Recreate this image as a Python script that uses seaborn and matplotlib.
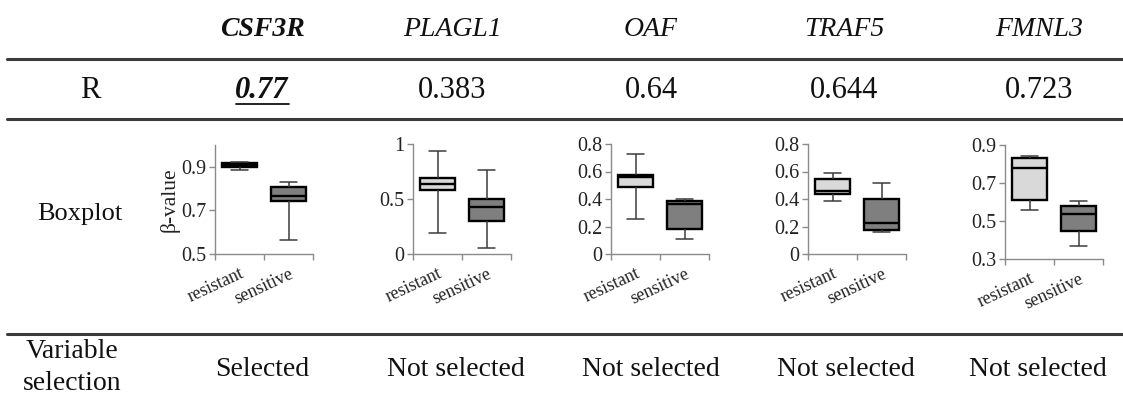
import numpy as np
import pandas as pd
import matplotlib
matplotlib.use("Agg")
import matplotlib.pyplot as plt
from matplotlib.lines import Line2D
from matplotlib.ticker import FuncFormatter, FixedLocator
import seaborn as sns

# ---------------- data ----------------
genes = ["CSF3R", "PLAGL1", "OAF", "TRAF5", "FMNL3"]
r_values = ["0.77", "0.383", "0.64", "0.644", "0.723"]
selection = ["Selected", "Not selected", "Not selected", "Not selected", "Not selected"]
groups = ["resistant", "sensitive"]

# five-number summaries [min, Q1, median, Q3, max] of beta-values
csf3r_resistant = [0.885, 0.899, 0.910, 0.919, 0.923]
csf3r_sensitive = [0.564, 0.742, 0.768, 0.806, 0.830]
plagl1_resistant = [0.188, 0.582, 0.633, 0.688, 0.936]
plagl1_sensitive = [0.055, 0.303, 0.424, 0.500, 0.764]
oaf_resistant = [0.258, 0.484, 0.560, 0.571, 0.730]
oaf_sensitive = [0.107, 0.182, 0.363, 0.382, 0.401]
traf5_resistant = [0.387, 0.436, 0.455, 0.545, 0.586]
traf5_sensitive = [0.163, 0.173, 0.228, 0.399, 0.516]
fmnl3_resistant = [0.556, 0.608, 0.779, 0.831, 0.840]
fmnl3_sensitive = [0.366, 0.445, 0.538, 0.577, 0.607]

y_ticks = {
    "CSF3R": [0.5, 0.7, 0.9],
    "PLAGL1": [0, 0.5, 1],
    "OAF": [0, 0.2, 0.4, 0.6, 0.8],
    "TRAF5": [0, 0.2, 0.4, 0.6, 0.8],
    "FMNL3": [0.3, 0.5, 0.7, 0.9],
}
y_limits = {
    "CSF3R": (0.5, 1.0),
    "PLAGL1": (0, 1),
    "OAF": (0, 0.8),
    "TRAF5": (0, 0.8),
    "FMNL3": (0.3, 0.9),
}
summaries = {
    "CSF3R": (csf3r_resistant, csf3r_sensitive),
    "PLAGL1": (plagl1_resistant, plagl1_sensitive),
    "OAF": (oaf_resistant, oaf_sensitive),
    "TRAF5": (traf5_resistant, traf5_sensitive),
    "FMNL3": (fmnl3_resistant, fmnl3_sensitive),
}

# ---------------- layout ----------------
W, H = 1123, 397
sns.set_theme(style="white")
plt.rcParams["font.family"] = ["Liberation Serif", "DejaVu Serif"]
fig = plt.figure(figsize=(W / 100, H / 100), dpi=100)
fig.patch.set_facecolor("white")

def fx(px):
    return px / W

def fy(py):
    return 1 - py / H

txt_col = "#111111"

# table rules
for yy in [58.5, 119, 334]:
    fig.add_artist(Line2D([fx(7), 1.0], [fy(yy), fy(yy)], color="#3a3a3a", lw=2.2,
                          transform=fig.transFigure))

col_x = [262, 452, 651, 844, 1039]
sel_x = [262, 456, 651, 846, 1038]

# header row
for i, g in enumerate(genes):
    fig.text(fx(col_x[i]), fy(29), g, ha="center", va="center", fontsize=20,
             style="italic", weight="bold" if i == 0 else "normal", color=txt_col)

# R row
fig.text(fx(90), fy(90), "R", ha="center", va="center", fontsize=22, color=txt_col)
for i, r in enumerate(r_values):
    fig.text(fx(col_x[i]), fy(90), r, ha="center", va="center", fontsize=22,
             style="italic" if i == 0 else "normal",
             weight="bold" if i == 0 else "normal", color=txt_col)
# underline for the selected value
fig.add_artist(Line2D([fx(236), fx(289)], [fy(103.5), fy(103.5)], color=txt_col, lw=1.3,
                      transform=fig.transFigure))

# boxplot row label
fig.text(fx(80), fy(214), "Boxplot", ha="center", va="center", fontsize=19, color=txt_col)

# variable selection row
fig.text(fx(72), fy(352), "Variable", ha="center", va="center", fontsize=20, color=txt_col)
fig.text(fx(72), fy(383), "selection", ha="center", va="center", fontsize=20, color=txt_col)
for i, s in enumerate(selection):
    fig.text(fx(sel_x[i]), fy(370), s, ha="center", va="center", fontsize=20, color=txt_col)

# boxplot axes positions in pixels (left, top, right, bottom)
ax_px = [
    (215, 145, 313, 254),
    (413, 144, 511, 254),
    (611, 144, 709, 254),
    (808, 144, 906, 254),
    (1005, 145, 1103, 259),
]
palette = {"resistant": "#d9d9d9", "sensitive": "#7f7f7f"}
axis_col = "#8a8a8a"

for i, g in enumerate(genes):
    l, t, r, b = ax_px[i]
    ax = fig.add_axes([fx(l), fy(b), fx(r - l), (b - t) / H])
    res, sen = summaries[g]
    df = pd.DataFrame({
        "group": ["resistant"] * len(res) + ["sensitive"] * len(sen),
        "value": list(res) + list(sen),
    })
    sns.boxplot(data=df, x="group", y="value", hue="group", order=groups,
                hue_order=groups, palette=palette, whis=(0, 100), width=0.7,
                linecolor="black", linewidth=1.7, legend=False, ax=ax,
                whiskerprops=dict(color="#3c3c3c", linewidth=1.1),
                capprops=dict(color="#3c3c3c", linewidth=1.1),
                medianprops=dict(color="black", linewidth=1.7),
                showfliers=False)
    ax.set_xlim(-0.5, 1.5)
    ax.set_ylim(*y_limits[g])
    ax.set_yticks(y_ticks[g])
    ax.yaxis.set_major_formatter(FuncFormatter(lambda v, p: "%g" % v))
    ax.set_facecolor("white")
    for sp in ["top", "right"]:
        ax.spines[sp].set_visible(False)
    for sp in ["left", "bottom"]:
        ax.spines[sp].set_color(axis_col)
        ax.spines[sp].set_linewidth(1.0)
    ax.tick_params(axis="y", which="major", length=4, width=1.0, color=axis_col,
                   direction="out", labelsize=14.5, labelcolor="#222222", pad=2, left=True)
    ax.set_xticks([0, 1])
    ax.set_xticklabels(groups, rotation=25, ha="right", va="top",
                       rotation_mode="anchor", fontsize=13, color="#222222")
    ax.tick_params(axis="x", which="major", length=0, pad=8, bottom=True)
    ax.xaxis.set_minor_locator(FixedLocator([-0.5, 0.5, 1.5]))
    ax.tick_params(axis="x", which="minor", length=4, width=1.0, color=axis_col,
                   direction="out", bottom=True)
    ax.set_xlabel("")
    if i == 0:
        ax.set_ylabel("β-value", fontsize=15.5, color="#222222", labelpad=1)
    else:
        ax.set_ylabel("")
    ax.grid(False)

fig.savefig("out.png", dpi=100, facecolor="white")
